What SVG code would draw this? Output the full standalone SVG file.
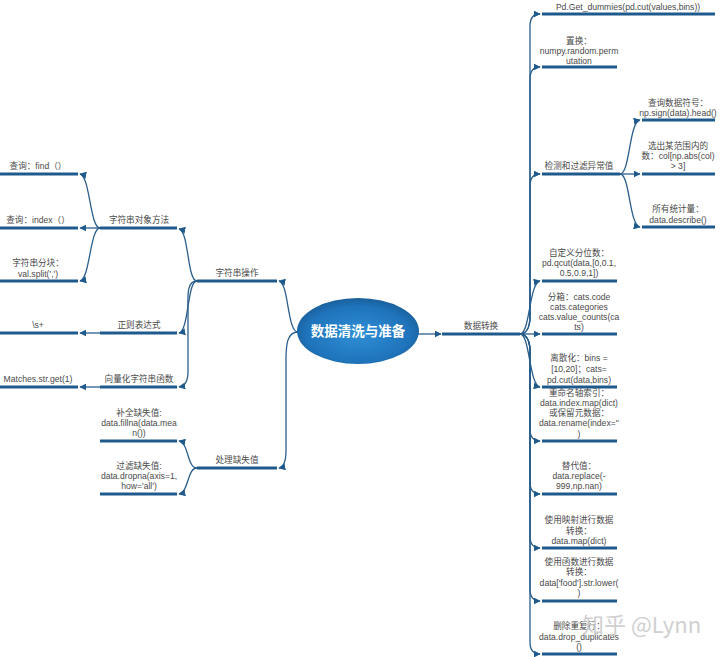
<svg xmlns="http://www.w3.org/2000/svg" width="720" height="657" viewBox="0 0 720 657">
<defs>
<marker id="ah" viewBox="0 0 10 10" refX="9" refY="5" markerWidth="7" markerHeight="7" markerUnits="userSpaceOnUse" orient="auto">
<path d="M0,0 L10,5 L0,10 Z" fill="#1f5a8c"/>
</marker>
<radialGradient id="eg" cx="0.5" cy="0.55" r="0.6">
<stop offset="0" stop-color="#2f8fd6"/>
<stop offset="0.7" stop-color="#1f74bb"/>
<stop offset="1" stop-color="#17578f"/>
</radialGradient>
<style>
.bar{stroke:#1f5a8c;stroke-width:3;fill:none}
.con{stroke:#2a5e8c;stroke-width:1.3;fill:none;marker-end:url(#ah)}
.t{font-family:"Liberation Sans","Noto Sans CJK SC",sans-serif;font-size:8.6px;fill:#4a4a4a;text-anchor:middle}
.c{font-family:"Noto Sans CJK SC","Liberation Sans",sans-serif;font-size:13.5px;font-weight:bold;fill:#ffffff;text-anchor:middle}
.wm{font-family:"Noto Sans CJK SC","Liberation Sans",sans-serif;font-size:22px;fill:#c8c8c8;opacity:0.85}
</style>
</defs>
<rect width="720" height="657" fill="#ffffff"/>

<g id="connectors">
<path class="con" d="M418,334 L441,334"/>
<path class="con" d="M298,332 C287,332 289,283 279,281"/>
<path class="con" d="M298,332 C287,332 286,345 286,360 L286,450 C286,462 284,467 279,468"/>
<path class="con" d="M197,281 C187,281 189,231 179,229"/>
<path class="con" d="M197,281 C187,281 189,331 179,333"/>
<path class="con" d="M197,281 C186,281 188,298 188,310 L188,372 C188,382 185,386 179,387"/>
<path class="con" d="M197,468 C187,468 189,443 179,441"/>
<path class="con" d="M197,468 C187,468 189,492 179,494"/>
<path class="con" d="M100,228 C90,228 90,176 80,174"/>
<path class="con" d="M100,228 L80,228"/>
<path class="con" d="M100,228 C90,228 90,279 80,281"/>
<path class="con" d="M100,333 L80,333"/>
<path class="con" d="M100,387 L80,387"/>
<path class="con" d="M520,334 C527,334 530,326 530,316 L530,26 C530,18 533,14 540,14"/>
<path class="con" d="M520,334 C527,334 530,326 530,316 L530,79 C530,71 533,67 540,67"/>
<path class="con" d="M520,334 C527,334 530,326 530,316 L530,186 C530,178 533,174 540,174"/>
<path class="con" d="M520,334 C530,334 529,283 540,281"/>
<path class="con" d="M520,334 L540,334"/>
<path class="con" d="M520,334 C530,334 529,385 540,387"/>
<path class="con" d="M520,334 C527,334 530,342 530,352 L530,429 C530,437 533,441 540,441"/>
<path class="con" d="M520,334 C527,334 530,342 530,352 L530,482 C530,490 533,494 540,494"/>
<path class="con" d="M520,334 C527,334 530,342 530,352 L530,536 C530,544 533,548 540,548"/>
<path class="con" d="M520,334 C527,334 530,342 530,352 L530,589 C530,597 533,601 540,601"/>
<path class="con" d="M520,334 C527,334 530,342 530,352 L530,642 C530,650 533,654 540,654"/>
<path class="con" d="M620,174 C630,174 629,122 640,120"/>
<path class="con" d="M620,174 L640,174"/>
<path class="con" d="M620,174 C630,174 629,225 640,227"/>
</g>

<g id="root">
<ellipse cx="358" cy="331" rx="61" ry="33" fill="url(#eg)"/>
<text class="c" x="358" y="336">数据清洗与准备</text>
</g>

<g id="n-zfccz"><path class="bar" d="M197,281 H277"/><text class="t" x="237" y="276">字符串操作</text></g>
<g id="n-clqsz"><path class="bar" d="M197,468 H277"/><text class="t" x="237" y="463">处理缺失值</text></g>
<g id="n-dxff"><path class="bar" d="M100,228 H177"/><text class="t" x="139" y="223">字符串对象方法</text></g>
<g id="n-zzbds"><path class="bar" d="M100,333 H177"/><text class="t" x="139" y="328">正则表达式</text></g>
<g id="n-xlh"><path class="bar" d="M100,387 H177"/><text class="t" x="139" y="382">向量化字符串函数</text></g>
<g id="n-bq"><path class="bar" d="M100,441 H177"/><text class="t" x="139" y="416">补全缺失值:</text><text class="t" x="139" y="426">data.fillna(data.mea</text><text class="t" x="139" y="436">n())</text></g>
<g id="n-gl"><path class="bar" d="M100,494 H177"/><text class="t" x="139" y="469">过滤缺失值:</text><text class="t" x="139" y="479">data.dropna(axis=1,</text><text class="t" x="139" y="489">how='all')</text></g>
<g id="n-find"><path class="bar" d="M0,174 H78"/><text class="t" x="38" y="169">查询：find（）</text></g>
<g id="n-index"><path class="bar" d="M0,228 H78"/><text class="t" x="38" y="223">查询：index（）</text></g>
<g id="n-split"><path class="bar" d="M0,281 H78"/><text class="t" x="38" y="266">字符串分块：</text><text class="t" x="38" y="277">val.split(',')</text></g>
<g id="n-s"><path class="bar" d="M0,333 H78"/><text class="t" x="38" y="328">\s+</text></g>
<g id="n-match"><path class="bar" d="M0,387 H78"/><text class="t" x="38" y="382">Matches.str.get(1)</text></g>

<g id="n-sjzh"><path class="bar" d="M442,334 H520"/><text class="t" x="481" y="329">数据转换</text></g>
<g id="n-dummies"><path class="bar" d="M542,14 H715"/><text class="t" x="628" y="10">Pd.Get_dummies(pd.cut(values,bins))</text></g>
<g id="n-zh"><path class="bar" d="M542,67 H617"/><text class="t" x="579" y="44">置换：</text><text class="t" x="579" y="54">numpy.random.perm</text><text class="t" x="579" y="64">utation</text></g>
<g id="n-jc"><path class="bar" d="M542,174 H620"/><text class="t" x="579" y="169">检测和过滤异常值</text></g>
<g id="n-fh"><path class="bar" d="M642,120 H715"/><text class="t" x="678" y="106">查询数据符号：</text><text class="t" x="678" y="116">np.sign(data).head()</text></g>
<g id="n-fw"><path class="bar" d="M642,174 H715"/><text class="t" x="678" y="149">选出某范围内的</text><text class="t" x="678" y="159">数：col[np.abs(col)</text><text class="t" x="678" y="169">&gt; 3]</text></g>
<g id="n-tj"><path class="bar" d="M642,227 H715"/><text class="t" x="678" y="212">所有统计量：</text><text class="t" x="678" y="223">data.describe()</text></g>
<g id="n-qcut"><path class="bar" d="M542,281 H617"/><text class="t" x="579" y="256">自定义分位数：</text><text class="t" x="579" y="266">pd.qcut(data,[0,0.1,</text><text class="t" x="579" y="276">0.5,0.9,1])</text></g>
<g id="n-fx"><path class="bar" d="M542,334 H617"/><text class="t" x="579" y="300">分箱：cats.code</text><text class="t" x="579" y="310">cats.categories</text><text class="t" x="579" y="320">cats.value_counts(ca</text><text class="t" x="579" y="330">ts)</text></g>
<g id="n-lsh"><path class="bar" d="M542,387 H617"/><text class="t" x="579" y="361">离散化：bins =</text><text class="t" x="579" y="372">[10,20]；cats=</text><text class="t" x="579" y="383">pd.cut(data,bins)</text></g>
<g id="n-cmm"><path class="bar" d="M542,441 H617"/><text class="t" x="579" y="396">重命名轴索引：</text><text class="t" x="579" y="406">data.index.map(dict)</text><text class="t" x="579" y="416">或保留元数据：</text><text class="t" x="579" y="426">data.rename(index=''</text><text class="t" x="579" y="437">)</text></g>
<g id="n-tdz"><path class="bar" d="M542,494 H617"/><text class="t" x="579" y="469">替代值：</text><text class="t" x="579" y="479">data.replace(-</text><text class="t" x="579" y="489">999,np.nan)</text></g>
<g id="n-ys"><path class="bar" d="M542,548 H617"/><text class="t" x="579" y="523">使用映射进行数据</text><text class="t" x="579" y="534">转换：</text><text class="t" x="579" y="544">data.map(dict)</text></g>
<g id="n-hs"><path class="bar" d="M542,601 H617"/><text class="t" x="579" y="565">使用函数进行数据</text><text class="t" x="579" y="575">转换：</text><text class="t" x="579" y="586">data['food'].str.lower(</text><text class="t" x="579" y="596">)</text></g>
<g id="n-cf"><path class="bar" d="M542,654 H617"/><text class="t" x="579" y="629">删除重复行：</text><text class="t" x="579" y="640">data.drop_duplicates</text><text class="t" x="579" y="650">()</text></g>

<text class="wm" x="582" y="633">知乎 @Lynn</text>
</svg>
